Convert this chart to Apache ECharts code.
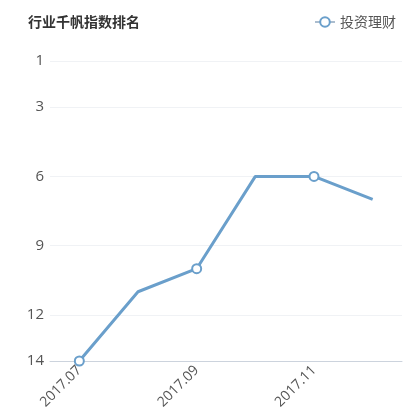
<!DOCTYPE html>
<html><head><meta charset="utf-8">
<script src="https://cdn.jsdelivr.net/npm/echarts@6/dist/echarts.min.js"></script>
<style>html,body{margin:0;padding:0;background:#fff}#c{width:415px;height:419px}</style>
</head><body><div id="c"></div>
<script>
const categories = ['2017.07','2017.08','2017.09','2017.10','2017.11','2017.12'];
const rankValues = [14, 11, 10, 6, 6, 7];
const yTicks = [1, 3, 6, 9, 12, 14];
const seriesName = '投资理财';
const titleText = '行业千帆指数排名';

const chart = echarts.init(document.getElementById('c'));
chart.setOption({
  animation: false,
  title: { text: titleText, left: 23, top: 10, textStyle: { fontSize: 14, fontWeight: 'bold', color: '#333', fontFamily: 'Noto Sans CJK SC' } },
  legend: { data: [seriesName], right: 14, top: 10, itemWidth: 20, itemHeight: 12, itemGap: 4,
    lineStyle: { width: 1.5, color: '#8fa7bf' },
    itemStyle: { borderColor: '#8fa7bf', borderWidth: 1.5 },
    textStyle: { fontSize: 14, color: '#555', fontFamily: 'Noto Sans CJK SC' } },
  grid: { left: 50, right: 13, top: 61, bottom: 58 },
  xAxis: {
    type: 'category', data: categories, boundaryGap: true,
    axisLine: { lineStyle: { color: '#ccd3dd' } },
    axisTick: { interval: 1, lineStyle: { color: '#ccd3dd' } },
    axisLabel: { interval: 1, rotate: 45, color: '#555', fontSize: 14, margin: 7, fontFamily: 'Open Sans' }
  },
  yAxis: {
    type: 'value', inverse: true, min: 1, max: 14,
    axisLine: { show: false }, axisTick: { show: false, customValues: yTicks },
    axisLabel: { customValues: yTicks, color: '#555', fontSize: 15, margin: 6, fontFamily: 'Open Sans' },
    splitLine: { lineStyle: { color: '#f0f2f5' } }
  },
  series: [{
    name: seriesName, type: 'line', data: rankValues,
    symbol: 'emptyCircle', symbolSize: 9, showAllSymbol: false,
    lineStyle: { width: 3, color: '#6a9fcb' },
    itemStyle: { color: '#6a9fcb', borderWidth: 2.5 }
  }]
});
</script></body></html>
